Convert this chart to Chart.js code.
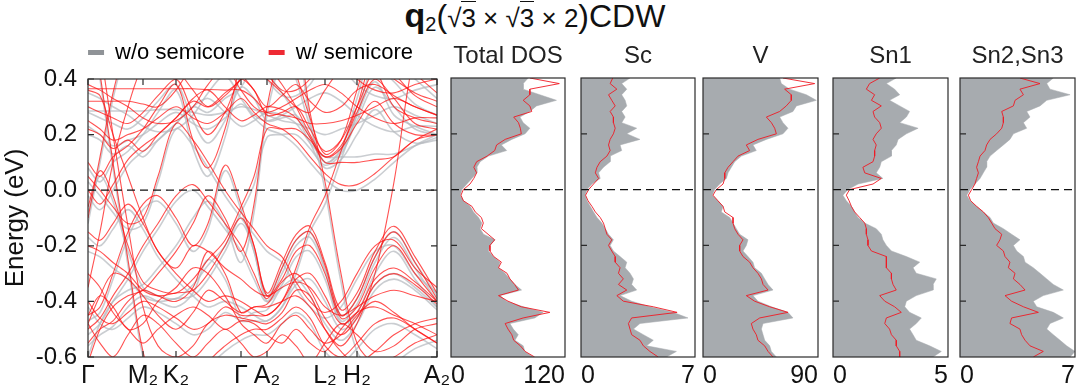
<!DOCTYPE html>
<html><head><meta charset="utf-8">
<script src="https://cdn.jsdelivr.net/npm/chart.js@4.4.1/dist/chart.umd.min.js"></script>
<style>
html,body{margin:0;padding:0;background:#fff;width:1080px;height:390px;overflow:hidden;position:relative;}
canvas{position:absolute;top:0;}
#title{position:absolute;top:-1px;left:0;width:1070px;text-align:center;font-family:'Liberation Sans',Arial,sans-serif;font-size:32px;line-height:32px;color:#111;white-space:nowrap;}
#title .q{font-weight:bold;font-size:34px;}
#title sub{font-size:20px;vertical-align:-4px;}
#title .in{font-size:26px;}
#title .pa{font-size:32px;}
#title .ov{border-top:1.5px solid #111;padding-top:1px;}
</style></head><body>
<div id="title"><span class="q">q</span><sub>2</sub><span class="in"><span class="pa">(</span>√<span class="ov">3</span> × √<span class="ov">3</span> × 2<span class="pa">)</span></span>CDW</div>
<canvas id="bands" width="510" height="390" style="left:0"></canvas>
<canvas id="dosTotal" width="130" height="390" style="left:443px"></canvas>
<canvas id="dosSc" width="130" height="390" style="left:573px"></canvas>
<canvas id="dosV" width="131" height="390" style="left:695px"></canvas>
<canvas id="dosSn1" width="131" height="390" style="left:825px"></canvas>
<canvas id="dosSn23" width="128" height="390" style="left:952px"></canvas>
<script>
// ---------- band structure data ----------
const kPath = [0,12,25,40,55,70,88,105,120,137,153,166,179,194,208,222,237,253,269,287,306,327,349];
const symK = [0,55,88,153,179,237,269,349];
const symLabels = ['Γ','M₂','K₂','Γ','A₂','L₂','H₂','A₂'];
const energyTicks = [0.4,0.2,0.0,-0.2,-0.4,-0.6];

const bandsSemicore = [
  [0.365,0.365,0.365,0.365,0.365,0.365,0.365,0.365,0.362,0.36,0.36,0.33,0.28,0.27,0.26,0.24,0.24,0.25,0.27,0.3,0.33,0.3,0.27],
  [0.32,0.32,0.32,0.32,0.31,0.3,0.36,0.46,0.55,0.5,0.42,0.36,0.3,0.34,0.38,0.32,0.28,0.3,0.36,0.38,0.34,0.3,0.27],
  [0.72,0.42,0.1,-0.25,-0.58,-0.72,-0.78,-0.72,-0.62,-0.56,-0.52,-0.5,-0.5,-0.46,-0.42,-0.46,-0.56,-0.6,-0.55,-0.48,-0.46,-0.5,-0.55],
  [0.8,0.52,0.2,-0.13,-0.42,-0.56,-0.6,-0.56,-0.48,-0.45,-0.46,-0.47,-0.48,-0.44,-0.36,-0.38,-0.5,-0.58,-0.62,-0.58,-0.52,-0.48,-0.46],
  [-0.1,0.12,0.35,0.55,0.7,0.6,0.5,0.45,0.42,0.5,0.55,0.5,0.42,0.36,0.36,0.4,0.48,0.46,0.4,0.36,0.35,0.38,0.4],
  [-0.35,-0.15,0.1,0.3,0.45,0.5,0.44,0.36,0.3,0.34,0.4,0.44,0.4,0.35,0.3,0.28,0.36,0.44,0.5,0.45,0.4,0.35,0.32],
  [-0.06,0.07,-0.02,-0.2,-0.33,-0.36,-0.37,-0.32,-0.25,-0.18,-0.06,0.05,0.22,0.22,0.22,0.18,0.12,0.16,0.28,0.4,0.33,0.24,0.22],
  [0.1,0.05,0.12,0.16,0.22,0.3,0.38,0.18,0.08,0.22,0.45,0.5,0.45,0.38,0.3,0.2,0.12,0.15,0.24,0.32,0.24,0.2,0.2],
  [0.3,0.28,0.26,0.24,0.28,0.34,0.4,0.28,0.2,0.28,0.4,0.36,0.27,0.28,0.3,0.22,0.14,0.18,0.3,0.42,0.3,0.26,0.24],
  [0.0,-0.05,0.02,0.11,0.16,0.2,0.26,0.33,0.36,0.3,0.25,0.27,0.3,0.29,0.26,0.19,0.1,0.1,0.1,0.11,0.12,0.18,0.2],
  [-0.45,-0.42,-0.3,-0.15,-0.05,-0.02,-0.1,-0.2,-0.12,0.09,-0.05,-0.2,-0.37,-0.26,-0.16,-0.13,-0.26,-0.43,-0.37,-0.22,-0.13,-0.24,-0.37],
  [-0.5,-0.46,-0.38,-0.3,-0.2,-0.12,-0.02,0.02,-0.04,-0.12,-0.2,-0.3,-0.39,-0.28,-0.18,-0.15,-0.27,-0.45,-0.39,-0.24,-0.15,-0.26,-0.39],
  [-0.55,-0.5,-0.47,-0.4,-0.36,-0.38,-0.4,-0.35,-0.22,-0.3,-0.44,-0.42,-0.41,-0.33,-0.3,-0.36,-0.46,-0.52,-0.46,-0.34,-0.3,-0.34,-0.41],
  [-0.62,-0.5,-0.42,-0.38,-0.36,-0.3,-0.22,-0.12,-0.02,-0.1,-0.22,-0.05,0.3,0.5,0.55,0.28,0.03,-0.3,-0.55,-0.62,-0.6,-0.55,-0.52],
  [-0.4,-0.46,-0.48,-0.44,-0.4,-0.42,-0.46,-0.5,-0.48,-0.42,-0.45,-0.45,-0.45,-0.4,-0.28,-0.13,-0.02,0.14,0.3,0.48,0.42,0.34,0.3],
  [-0.48,-0.38,-0.3,-0.32,-0.38,-0.45,-0.5,-0.44,-0.36,-0.4,-0.44,-0.42,-0.42,-0.4,-0.38,-0.42,-0.5,-0.56,-0.48,-0.3,0.03,0.5,0.7],
  [0.22,0.2,0.15,0.18,0.14,0.2,0.26,0.32,0.3,0.35,0.4,0.5,0.6,0.56,0.42,0.26,0.13,0.18,0.36,0.55,0.5,0.42,0.35],
  [-0.3,-0.35,-0.44,-0.5,-0.55,-0.5,-0.45,-0.42,-0.45,-0.5,-0.47,-0.48,-0.52,-0.55,-0.5,-0.55,-0.58,-0.5,-0.44,-0.42,-0.45,-0.48,-0.52],
  [0.05,0.0,-0.06,-0.12,-0.1,0.05,0.24,0.18,0.1,0.0,-0.08,-0.14,-0.2,-0.24,-0.33,-0.4,-0.44,-0.4,-0.3,-0.2,-0.18,-0.28,-0.35],
  [-0.2,-0.22,-0.26,-0.3,-0.36,-0.38,-0.37,-0.36,-0.3,-0.2,-0.1,-0.2,-0.38,-0.32,-0.22,-0.2,-0.3,-0.46,-0.42,-0.28,-0.2,-0.3,-0.4],
  [0.25,0.22,0.18,0.2,0.22,0.26,0.3,0.26,0.24,0.28,0.33,0.28,0.24,0.22,0.18,0.12,0.06,0.02,0.02,0.06,0.12,0.18,0.22],
  [0.38,0.36,0.33,0.3,0.26,0.24,0.25,0.3,0.38,0.44,0.36,0.3,0.28,0.3,0.33,0.36,0.38,0.35,0.3,0.26,0.24,0.26,0.26],
  [-0.45,-0.38,-0.42,-0.5,-0.48,-0.4,-0.35,-0.28,-0.3,-0.38,-0.48,-0.52,-0.55,-0.48,-0.45,-0.5,-0.55,-0.52,-0.45,-0.4,-0.44,-0.5,-0.55],
  [-0.48,-0.55,-0.6,-0.52,-0.45,-0.48,-0.55,-0.6,-0.55,-0.5,-0.55,-0.6,-0.58,-0.52,-0.56,-0.62,-0.55,-0.48,-0.52,-0.58,-0.56,-0.5,-0.48],
  [-0.15,-0.18,-0.12,-0.05,-0.12,-0.22,-0.3,-0.36,-0.4,-0.38,-0.4,-0.43,-0.45,-0.4,-0.32,-0.3,-0.38,-0.48,-0.44,-0.32,-0.28,-0.33,-0.4],
  [0.36,0.34,0.2,0.05,-0.1,-0.22,-0.28,-0.2,-0.22,-0.28,-0.32,-0.36,-0.38,-0.35,-0.33,-0.35,-0.42,-0.45,-0.42,-0.38,-0.36,-0.38,-0.4]
];

const bandsNoSemicore = [
  [0.285,0.285,0.285,0.285,0.285,0.29,0.29,0.28,0.27,0.28,0.3,0.29,0.27,0.25,0.24,0.22,0.2,0.22,0.24,0.27,0.3,0.27,0.24],
  [0.08,0.03,0.1,0.14,0.2,0.28,0.36,0.15,0.05,0.19,0.42,0.47,0.42,0.35,0.27,0.17,0.08,0.11,0.2,0.29,0.21,0.17,0.18],
  [0.28,0.26,0.24,0.22,0.26,0.32,0.38,0.25,0.17,0.25,0.37,0.33,0.25,0.26,0.27,0.19,0.1,0.14,0.27,0.39,0.27,0.23,0.2],
  [-0.02,-0.07,0.0,0.09,0.14,0.18,0.24,0.3,0.33,0.28,0.23,0.25,0.28,0.27,0.24,0.17,0.12,0.12,0.12,0.13,0.13,0.16,0.19],
  [-0.47,-0.44,-0.32,-0.17,-0.07,-0.04,-0.12,-0.22,-0.14,0.07,-0.07,-0.22,-0.38,-0.28,-0.18,-0.15,-0.28,-0.45,-0.39,-0.24,-0.15,-0.26,-0.38],
  [-0.52,-0.48,-0.4,-0.32,-0.22,-0.14,-0.04,0.0,-0.06,-0.14,-0.22,-0.32,-0.4,-0.3,-0.2,-0.17,-0.29,-0.47,-0.41,-0.26,-0.17,-0.28,-0.4],
  [-0.56,-0.52,-0.49,-0.42,-0.38,-0.4,-0.42,-0.37,-0.25,-0.32,-0.46,-0.44,-0.43,-0.35,-0.32,-0.38,-0.48,-0.54,-0.48,-0.36,-0.32,-0.36,-0.43],
  [-0.08,0.05,-0.04,-0.22,-0.35,-0.38,-0.39,-0.34,-0.27,-0.2,-0.08,0.02,0.19,0.2,0.2,0.15,0.09,0.13,0.25,0.37,0.3,0.22,0.2],
  [0.2,0.18,0.13,0.16,0.12,0.18,0.24,0.3,0.28,0.33,0.37,0.47,0.57,0.53,0.4,0.23,0.1,0.15,0.33,0.52,0.47,0.4,0.33],
  [-0.22,-0.24,-0.28,-0.32,-0.38,-0.4,-0.39,-0.38,-0.32,-0.22,-0.12,-0.22,-0.4,-0.34,-0.24,-0.22,-0.32,-0.48,-0.44,-0.3,-0.22,-0.32,-0.42],
  [0.23,0.2,0.16,0.18,0.2,0.24,0.28,0.24,0.22,0.26,0.31,0.26,0.22,0.2,0.16,0.1,0.04,0.0,0.0,0.04,0.1,0.16,0.2],
  [0.7,0.4,0.08,-0.27,-0.6,-0.74,-0.8,-0.74,-0.64,-0.58,-0.54,-0.52,-0.52,-0.48,-0.44,-0.48,-0.58,-0.62,-0.57,-0.5,-0.48,-0.52,-0.57],
  [0.03,-0.02,-0.08,-0.14,-0.12,0.03,0.22,0.16,0.08,-0.02,-0.1,-0.16,-0.22,-0.26,-0.35,-0.42,-0.46,-0.42,-0.32,-0.22,-0.2,-0.3,-0.37],
  [-0.6,-0.48,-0.4,-0.36,-0.34,-0.28,-0.2,-0.1,-0.04,-0.12,-0.26,-0.08,0.27,0.47,0.52,0.25,0.0,-0.33,-0.58,-0.64,-0.62,-0.57,-0.54],
  [-0.17,-0.2,-0.14,-0.07,-0.14,-0.24,-0.32,-0.38,-0.42,-0.4,-0.42,-0.45,-0.47,-0.42,-0.34,-0.32,-0.4,-0.5,-0.46,-0.34,-0.3,-0.35,-0.42],
  [0.35,0.33,0.3,0.27,0.23,0.21,0.22,0.27,0.35,0.41,0.33,0.27,0.25,0.27,0.3,0.33,0.35,0.32,0.27,0.23,0.21,0.23,0.23],
  [-0.12,0.1,0.33,0.53,0.68,0.58,0.48,0.43,0.4,0.48,0.53,0.48,0.4,0.34,0.34,0.38,0.46,0.44,0.38,0.34,0.33,0.36,0.38],
  [-0.42,-0.48,-0.5,-0.46,-0.42,-0.44,-0.48,-0.52,-0.5,-0.44,-0.47,-0.47,-0.47,-0.42,-0.3,-0.15,-0.05,0.11,0.27,0.45,0.39,0.31,0.27]
];

// ---------- DOS data (energy from +0.4 down to -0.6 eV) ----------
const dosEnergy = [0.40,0.38,0.36,0.34,0.32,0.30,0.28,0.26,0.24,0.22,0.20,0.18,0.16,0.14,0.12,0.10,0.08,0.06,0.04,0.02,0.00,-0.02,-0.04,-0.06,-0.08,-0.10,-0.12,-0.14,-0.16,-0.18,-0.20,-0.22,-0.24,-0.26,-0.28,-0.30,-0.32,-0.34,-0.36,-0.38,-0.40,-0.42,-0.44,-0.46,-0.48,-0.50,-0.52,-0.54,-0.56,-0.58,-0.60];

const totalNoSemicore = [81.3,76,76,93.5,111,90,83,72.6,76,83,78,64,53,58.6,39.4,30.7,27.2,27.2,22,16.7,11.5,9.8,13.3,20.2,23.7,29,32.4,30.7,34.2,46.4,41,39.4,44.6,51.6,49.9,56.9,62,67.3,74.3,51.6,58.6,76,97,88.2,62,65.6,70.8,67.3,76,77.8,86.5];
const totalSemicore = [83,114,83,83,76,83,85,66,71,73,74,57,48,46,38,27,24,27,24,20,13,10.5,13,22,25.5,32,34,32,39,46,41,41,45,53,50,59,62,67,71,50,60,74,104,76,57,60,64,66,73,78,88];
const scNoSemicore = [3.01,2.5,2.81,2.5,2.71,2.81,2.5,2.71,2.5,3.42,2.81,3.62,2.4,2.5,1.79,1.79,1.38,1.08,1.18,0.67,0.37,0.26,0.37,0.57,0.77,0.98,1.28,1.49,1.69,1.99,1.79,1.99,2.4,2.81,2.71,3.01,3.22,3.11,3.42,2.4,3.11,4.23,5.66,6.57,3.62,3.22,3.83,4.44,4.03,5.86,5.25];
const scSemicore = [1.95,1.79,2.2,1.69,1.89,2.1,1.79,1.99,1.99,2.1,1.99,1.79,1.69,1.79,1.59,1.18,0.98,0.88,1.08,0.77,0.47,0.28,0.43,0.67,0.88,1.18,1.38,1.49,1.59,1.89,1.69,1.89,2.1,2.1,2.4,2.3,2.6,2.3,2.81,2.2,2.6,4.44,5.9,3.11,2.91,3.01,3.11,3.62,3.83,4.23,4.74];
const vNoSemicore = [60,61.3,67.8,80.9,88.7,73.1,70.4,60,62.6,66.5,62.6,49.6,39.1,41.7,30,24.8,22.2,19.6,18.3,13,9.1,7.3,11.7,15.7,14.3,20.9,23.5,26.1,28.7,35.2,33.9,31.3,35.2,39.1,40.4,45.7,48.3,50.9,54.8,39.1,43,53.5,66.5,70.4,47,45.7,47,48.3,52.2,53.5,57.4];
const vSemicore = [62.6,87.4,63.9,69.1,69.1,65.2,60,49.6,53.5,56.1,57.4,43,33.9,36.5,27.4,23.5,19.6,17,17,15.7,10.4,7.8,11.7,15.7,17,23.5,23.5,24.8,27.4,31.3,28.7,28.7,31.3,36.5,39.1,43,45.7,47,50.9,33.9,40.4,52.2,66.5,44.4,37.8,39.1,41.7,43,48.3,50.9,54.8];
const sn1NoSemicore = [2.75,2.32,2.68,2.9,2.46,2.9,3.33,3.19,2.9,3.7,3.19,2.83,2.75,2.54,2.54,2.1,2.03,1.88,2.17,1.09,0.65,0.43,0.58,0.8,0.94,1.09,1.38,1.88,2.1,2.17,2.32,2.54,3.19,3.77,3.48,3.62,4.49,4.35,4.35,3.62,3.19,3.12,3.33,3.84,3.62,3.33,3.48,3.62,4.2,4.71,4.35];
const sn1Semicore = [2.03,1.59,1.45,1.81,1.67,2.1,1.74,1.81,2.03,2.1,1.88,1.74,1.88,1.81,1.81,1.74,1.3,1.38,2.1,1.74,0.72,0.58,0.7,0.8,0.94,1.16,1.38,1.45,1.45,1.52,1.52,1.67,2.32,2.32,2.32,2.54,2.54,2.61,2.75,2.03,2.25,2.68,2.97,2.32,2.25,2.46,2.54,2.75,2.75,2.9,2.9];
const sn23NoSemicore = [5.68,5.28,5.48,6.7,5.28,4.87,4.06,4.26,3.86,4.06,3.25,3.04,2.64,2.23,1.83,1.62,1.62,1.42,1.22,0.91,0.61,0.41,0.61,1.01,1.42,1.83,2.03,2.64,3.14,3.65,3.25,3.45,3.86,3.96,4.46,4.87,5.28,5.68,6.29,5.07,4.46,4.67,5.68,6.29,5.48,5.28,5.68,6.09,6.49,7.0,6.7];
const sn23Semicore = [3.65,4.87,3.65,3.86,3.35,3.25,2.54,2.64,2.64,2.54,2.23,1.83,1.62,1.52,1.22,1.12,1.01,1.12,1.01,0.91,0.71,0.51,0.65,1.01,1.42,1.72,1.93,2.13,2.54,2.43,2.23,2.64,2.74,3.04,2.94,3.35,3.25,3.65,3.96,2.74,3.14,3.86,4.77,3.14,3.04,3.65,3.75,3.96,4.26,5.07,4.46];

// ---------- styling ----------
const FONT = "'Liberation Sans', Arial, Helvetica, sans-serif";
Chart.defaults.font.family = FONT;
Chart.defaults.color = '#111';
const RED = 'rgba(255,15,15,0.72)';
const GRAY = 'rgba(182,186,191,0.72)';

const frame = {
  id: 'frame',
  afterDatasetsDraw(chart, args, opts) {
    const {ctx, chartArea: a, scales} = chart;
    ctx.save();
    ctx.strokeStyle = '#2a2a2a';
    ctx.lineWidth = 1.2;
    ctx.strokeRect(a.left, a.top, a.right - a.left, a.bottom - a.top);
    const L = 6;
    ctx.beginPath();
    (opts.yTicks || []).forEach(v => {
      const y = scales.y.getPixelForValue(v);
      ctx.moveTo(a.left, y); ctx.lineTo(a.left + L, y);
      if (opts.right) { ctx.moveTo(a.right, y); ctx.lineTo(a.right - L, y); }
    });
    (opts.xTicks || []).forEach(v => {
      const x = scales.x.getPixelForValue(v);
      ctx.moveTo(x, a.top); ctx.lineTo(x, a.top + L);
      ctx.moveTo(x, a.bottom); ctx.lineTo(x, a.bottom - L);
    });
    ctx.stroke();
    ctx.restore();
  }
};

// ---------- band structure chart ----------
const zeroLineBands = {data: [{x: 0, y: 0}, {x: 349, y: 0}], borderColor: '#111', borderWidth: 1.2, borderDash: [8, 5], pointRadius: 0, tension: 0};
const redSets = bandsSemicore.map(b => ({data: b.map((e, i) => ({x: kPath[i], y: e})), borderColor: RED, borderWidth: 1.1, pointRadius: 0, tension: 0.35, fill: false}));
const graySets = bandsNoSemicore.map(b => ({data: b.map((e, i) => ({x: kPath[i], y: e})), borderColor: GRAY, borderWidth: 1.6, pointRadius: 0, tension: 0.35, fill: false}));

new Chart(document.getElementById('bands'), {
  type: 'line',
  data: {datasets: [zeroLineBands, ...redSets, ...graySets]},
  options: {
    responsive: false, animation: false, events: [], devicePixelRatio: 1,
    layout: {padding: {top: 17.5, left: 0, right: 73, bottom: 0}},
    scales: {
      x: {type: 'linear', min: 0, max: 349, position: 'bottom',
          afterBuildTicks: s => { s.ticks = symK.map(v => ({value: v})); },
          afterFit: s => { s.height = 33; },
          grid: {display: false, drawTicks: false}, border: {display: false},
          ticks: {autoSkip: false, maxRotation: 0, padding: 4, font: {size: 25}, color: '#111', callback: (v, i) => symLabels[i]}},
      xTop: {type: 'linear', position: 'top', display: true,
          afterFit: s => { s.height = 5.5; },
          grid: {display: false, drawTicks: false}, border: {display: false}, ticks: {display: false}},
      y: {type: 'linear', min: -0.6, max: 0.4,
          afterBuildTicks: s => { s.ticks = energyTicks.map(v => ({value: v})); },
          afterFit: s => { s.width = 88; },
          grid: {display: false, drawTicks: false}, border: {display: false},
          ticks: {padding: 11, font: {size: 24}, color: '#111', callback: v => (Math.abs(v) < 1e-9 ? 0 : v).toFixed(1)},
          title: {display: true, text: 'Energy (eV)', font: {size: 26}, padding: 0, color: '#111'}}
    },
    plugins: {
      tooltip: {enabled: false},
      legend: {display: true, position: 'top', align: 'end',
        labels: {font: {size: 22}, padding: 24, boxWidth: 16, boxHeight: 5, color: '#222',
          generateLabels: () => [
            {text: 'w/o semicore', fillStyle: '#8f9397', strokeStyle: '#8f9397', lineWidth: 0, hidden: false, datasetIndex: 1 + bandsSemicore.length},
            {text: 'w/ semicore', fillStyle: '#ee2a33', strokeStyle: '#ee2a33', lineWidth: 0, hidden: false, datasetIndex: 1}
          ]}},
      frame: {yTicks: energyTicks, xTicks: symK, right: true}
    }
  },
  plugins: [frame]
});

// ---------- DOS panels ----------
function dosChart(id, title, max, grayVals, redVals, padL, padR) {
  new Chart(document.getElementById(id), {
    type: 'line',
    data: {datasets: [
      {data: [{x: 0, y: 0}, {x: max, y: 0}], borderColor: '#111', borderWidth: 1.2, borderDash: [8, 5], pointRadius: 0, fill: false, tension: 0},
      {data: dosEnergy.map((e, i) => ({x: redVals[i], y: e})), borderColor: 'rgba(240,25,35,0.9)', borderWidth: 1, pointRadius: 0, fill: false, tension: 0},
      {data: dosEnergy.map((e, i) => ({x: grayVals[i], y: e})), borderColor: 'rgba(167,171,175,1)', borderWidth: 0.5, backgroundColor: '#a7abaf', pointRadius: 0, fill: 'origin', tension: 0}
    ]},
    options: {
      indexAxis: 'y', responsive: false, animation: false, events: [], devicePixelRatio: 1,
      layout: {padding: {left: padL, right: padR, top: 0, bottom: 0}},
      scales: {
        y: {type: 'linear', min: -0.6, max: 0.4, display: false},
        x: {type: 'linear', min: 0, max: max,
            afterBuildTicks: s => { s.ticks = [{value: 0}, {value: max}]; },
            afterFit: s => { s.height = 33; },
            grid: {display: false, drawTicks: false}, border: {display: false},
            ticks: {align: 'inner', padding: 4, font: {size: 25}, color: '#111', maxRotation: 0, autoSkip: false}}
      },
      plugins: {
        legend: {display: false}, tooltip: {enabled: false},
        title: {display: true, text: title, font: {size: 24, weight: 'normal'}, padding: {top: 42, bottom: 7.2}, color: '#222'},
        frame: {yTicks: [0.2, -0.2, -0.4]}
      }
    },
    plugins: [frame]
  });
}
dosChart('dosTotal', 'Total DOS', 120, totalNoSemicore, totalSemicore, 8, 8);
dosChart('dosSc', 'Sc', 7, scNoSemicore, scSemicore, 8, 8);
dosChart('dosV', 'V', 90, vNoSemicore, vSemicore, 8, 8);
dosChart('dosSn1', 'Sn1', 5, sn1NoSemicore, sn1Semicore, 8, 8);
dosChart('dosSn23', 'Sn2,Sn3', 7, sn23NoSemicore, sn23Semicore, 8, 5);
</script>
</body></html>
